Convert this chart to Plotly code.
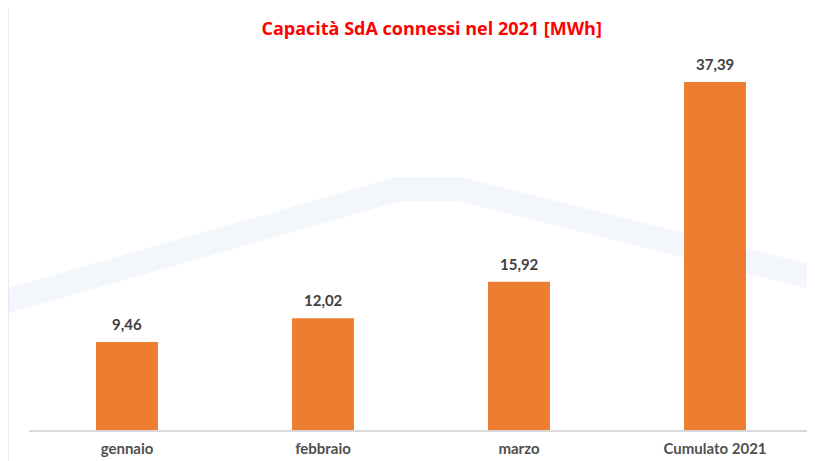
import plotly.graph_objects as go

categories = ["gennaio", "febbraio", "marzo", "Cumulato 2021"]
values = [9.46, 12.02, 15.92, 37.39]
labels = ["9,46", "12,02", "15,92", "37,39"]
ticklabels = ["<b>gennaio</b>", "<b>febbraio</b>", "<b>marzo</b>", "<b>Cumulato 2021</b>"]

fig = go.Figure()
fig.add_trace(go.Bar(
    x=categories, y=values,
    marker=dict(color="#ED7D31", line=dict(width=0)),
    cliponaxis=False,
))

for c, v, t in zip(categories, values, labels):
    fig.add_annotation(x=c, y=v, text=f"<b>{t}</b>", showarrow=False,
                       yanchor="bottom", yshift=7,
                       font=dict(family="Lato", size=15, color="#404040"))

# faint watermark roof
fig.add_shape(type="path", xref="paper", yref="paper",
              path="M -0.05 0.33 L 0.47 0.64 L 0.55 0.64 L 1.05 0.38",
              line=dict(color="#f3f6fa", width=24), layer="below")
# frame line of the original screenshot
fig.add_shape(type="line", xref="paper", yref="paper", x0=-0.027, x1=-0.027, y0=-0.1, y1=1.2,
              line=dict(color="#d5e0ec", width=1.5), layer="above")

fig.update_layout(
    width=807, height=453,
    margin=dict(l=21, r=2, t=46, b=31),
    paper_bgcolor="white", plot_bgcolor="rgba(0,0,0,0)",
    bargap=0.684,
    showlegend=False,
    title=dict(text="<b>Capacità SdA connessi nel 2021 [MWh]</b>", x=0.525, xanchor="center",
               y=0.955, yanchor="middle",
               font=dict(family="Open Sans", size=18, color="#FF0000")),
    xaxis=dict(showline=True, linecolor="#d9d9d9", linewidth=1.5, ticks="",
               tickmode="array", tickvals=categories, ticktext=ticklabels,
               ticklabelstandoff=4,
               tickfont=dict(family="Lato", size=15, color="#505050"),
               showgrid=False),
    yaxis=dict(range=[0, 40.4], visible=False, showgrid=False),
)

fig.write_html("out.html")
